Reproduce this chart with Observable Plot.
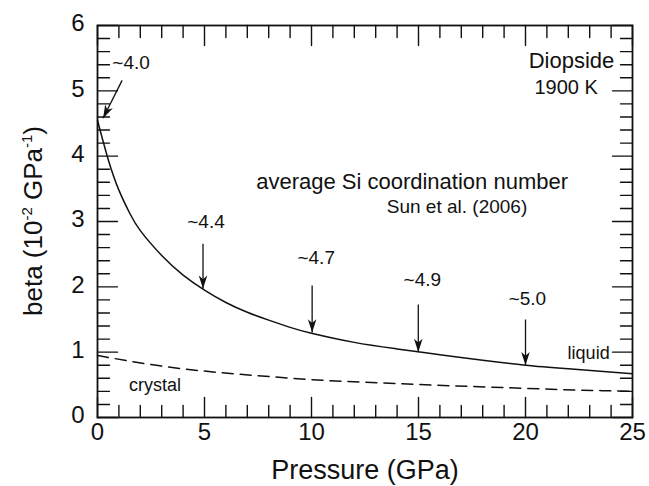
<!DOCTYPE html>
<html>
<head>
<meta charset="utf-8">
<script src="https://cdn.jsdelivr.net/npm/d3@7"></script>
<script src="https://cdn.jsdelivr.net/npm/@observablehq/plot@0.6"></script>
<style>
  html, body { margin: 0; padding: 0; background: #fff; }
  svg { font-family: "Liberation Sans", Arial, Helvetica, sans-serif; }
</style>
</head>
<body>
<div id="chart"></div>
<script>
// Liquid diopside compressibility (beta, 10^-2 GPa^-1) vs pressure (GPa)
const liquidP    = [0, 0.5, 1, 1.5, 2, 3, 4, 5, 6, 7, 8, 9, 10, 12, 14, 16, 18, 20, 22, 25];
const liquidBeta = [4.55, 3.95, 3.48, 3.13, 2.86, 2.48, 2.18, 1.95, 1.76, 1.61, 1.49, 1.38, 1.29, 1.15, 1.05, 0.96, 0.875, 0.80, 0.745, 0.67];

const crystalP    = [0, 2.5, 5, 7.5, 10, 12.5, 15, 17.5, 20, 22.5, 25];
const crystalBeta = [0.95, 0.81, 0.71, 0.64, 0.58, 0.54, 0.505, 0.475, 0.445, 0.42, 0.40];

// Si coordination annotations: arrows and labels
const coordLabels = ["~4.0", "~4.4", "~4.7", "~4.9", "~5.0"];
const arrowP1 = [1.15, 4.93, 10.03, 14.99, 20.0];
const arrowB1 = [5.16, 2.66, 2.02, 1.73, 1.50];
const arrowP2 = [0.26, 4.93, 10.03, 14.99, 20.0];
const arrowB2 = [4.58, 1.97, 1.30, 1.00, 0.80];
const labelP  = [1.57, 5.07, 10.22, 15.18, 20.09];
const labelB  = [5.43, 3.00, 2.45, 2.11, 1.81];
const headAngle = [206.6, 180, 180, 180, 180];

// Tick values
const xMajor = [0, 5, 10, 15, 20, 25];
const xMinor = d3.range(0, 26, 1);
const yMajor = [0, 1, 2, 3, 4, 5, 6];
const yMinor = d3.range(0, 31, 1).map(i => +(i * 0.2).toFixed(1));

// Free text annotations
const notes = [
  {text: "Diopside", p: 22.15, b: 5.45, size: 22},
  {text: "1900 K", p: 21.9, b: 5.05, size: 20},
  {text: "average Si coordination number", p: 14.7, b: 3.61, size: 22},
  {text: "Sun et al. (2006)", p: 16.8, b: 3.23, size: 19},
  {text: "liquid", p: 22.95, b: 0.985, size: 18},
  {text: "crystal", p: 2.69, b: 0.50, size: 18}
];

const liquid = liquidP.map((p, i) => ({p, b: liquidBeta[i]}));
const crystal = crystalP.map((p, i) => ({p, b: crystalBeta[i]}));
const arrows = coordLabels.map((t, i) => ({t, x1: arrowP1[i], y1: arrowB1[i], x2: arrowP2[i], y2: arrowB2[i], lx: labelP[i], ly: labelB[i], rot: headAngle[i]}));

// inward tick records
const ticks = [
  ...xMinor.map(v => ({x: v, y: 0, r: 0, len: xMajor.includes(v) ? 10 : 6})),
  ...xMinor.map(v => ({x: v, y: 6, r: 180, len: xMajor.includes(v) ? 10 : 6})),
  ...yMinor.map(v => ({x: 0, y: v, r: 90, len: yMajor.includes(v) ? 10 : 6})),
  ...yMinor.map(v => ({x: 25, y: v, r: 270, len: yMajor.includes(v) ? 10 : 6}))
];

const tickShape = {draw(context, l) { context.moveTo(0, 0); context.lineTo(0, -l); }};
// stealth arrow head: tip at origin pointing up
const stealth = {draw(context, size) {
  const L = Math.sqrt(size);
  context.moveTo(0, 0);
  context.lineTo(-0.32 * L, L);
  context.lineTo(0, 0.72 * L);
  context.lineTo(0.32 * L, L);
  context.closePath();
}};

const plot = Plot.plot({
  width: 649,
  height: 486,
  marginLeft: 97,
  marginRight: 17,
  marginTop: 25,
  marginBottom: 69,
  style: {fontFamily: '"Liberation Sans", Arial, sans-serif', color: "#111", background: "#fff"},
  x: {domain: [0, 25], axis: null},
  y: {domain: [0, 6], axis: null},
  marks: [
    Plot.vector(ticks, {x: "x", y: "y", rotate: "r", length: "len", anchor: "start", shape: tickShape, stroke: "#111", strokeWidth: 1.4}),
    // tick labels
    Plot.axisX(xMajor, {anchor: "bottom", tickSize: 0, tickPadding: 5, fontSize: 24, label: null, tickFormat: d => String(d)}),
    Plot.axisY(yMajor, {anchor: "left", tickSize: 0, tickPadding: 13, fontSize: 24, label: null, dy: -2, tickFormat: d => String(d)}),
    Plot.frame({stroke: "#111", strokeWidth: 1.8}),
    // curves
    Plot.line(liquid, {x: "p", y: "b", curve: "natural", stroke: "#111", strokeWidth: 1.5}),
    Plot.line(crystal, {x: "p", y: "b", curve: "natural", stroke: "#111", strokeWidth: 1.5, strokeDasharray: "11,7"}),
    // arrows
    Plot.link(arrows, {x1: "x1", y1: "y1", x2: "x2", y2: "y2", stroke: "#111", strokeWidth: 1.3}),
    Plot.dot(arrows, {x: "x2", y: "y2", rotate: "rot", symbol: stealth, r: 7.5, fill: "#111", stroke: "none"}),
    Plot.text(arrows, {x: "lx", y: "ly", text: "t", fontSize: 19, fill: "#111"}),
    // notes
    Plot.text(notes, {x: "p", y: "b", text: "text", fontSize: d => d.size, fill: "#111"}),
    // axis title
    Plot.text(["Pressure (GPa)"], {frameAnchor: "bottom", dy: 61, fontSize: 27, fill: "#111"})
  ]
});

// y-axis title with superscripts
const svg = d3.select(plot);
const t = svg.append("text")
  .attr("transform", "translate(42,221) rotate(-90)")
  .attr("text-anchor", "middle")
  .attr("font-size", 26)
  .attr("fill", "#111");
t.append("tspan").text("beta (10");
t.append("tspan").attr("font-size", 15).attr("dy", -10).text("-2");
t.append("tspan").attr("dy", 10).text(" GPa");
t.append("tspan").attr("font-size", 15).attr("dy", -10).text("-1");
t.append("tspan").attr("dy", 10).text(")");

document.getElementById("chart").appendChild(plot);
</script>
</body>
</html>
